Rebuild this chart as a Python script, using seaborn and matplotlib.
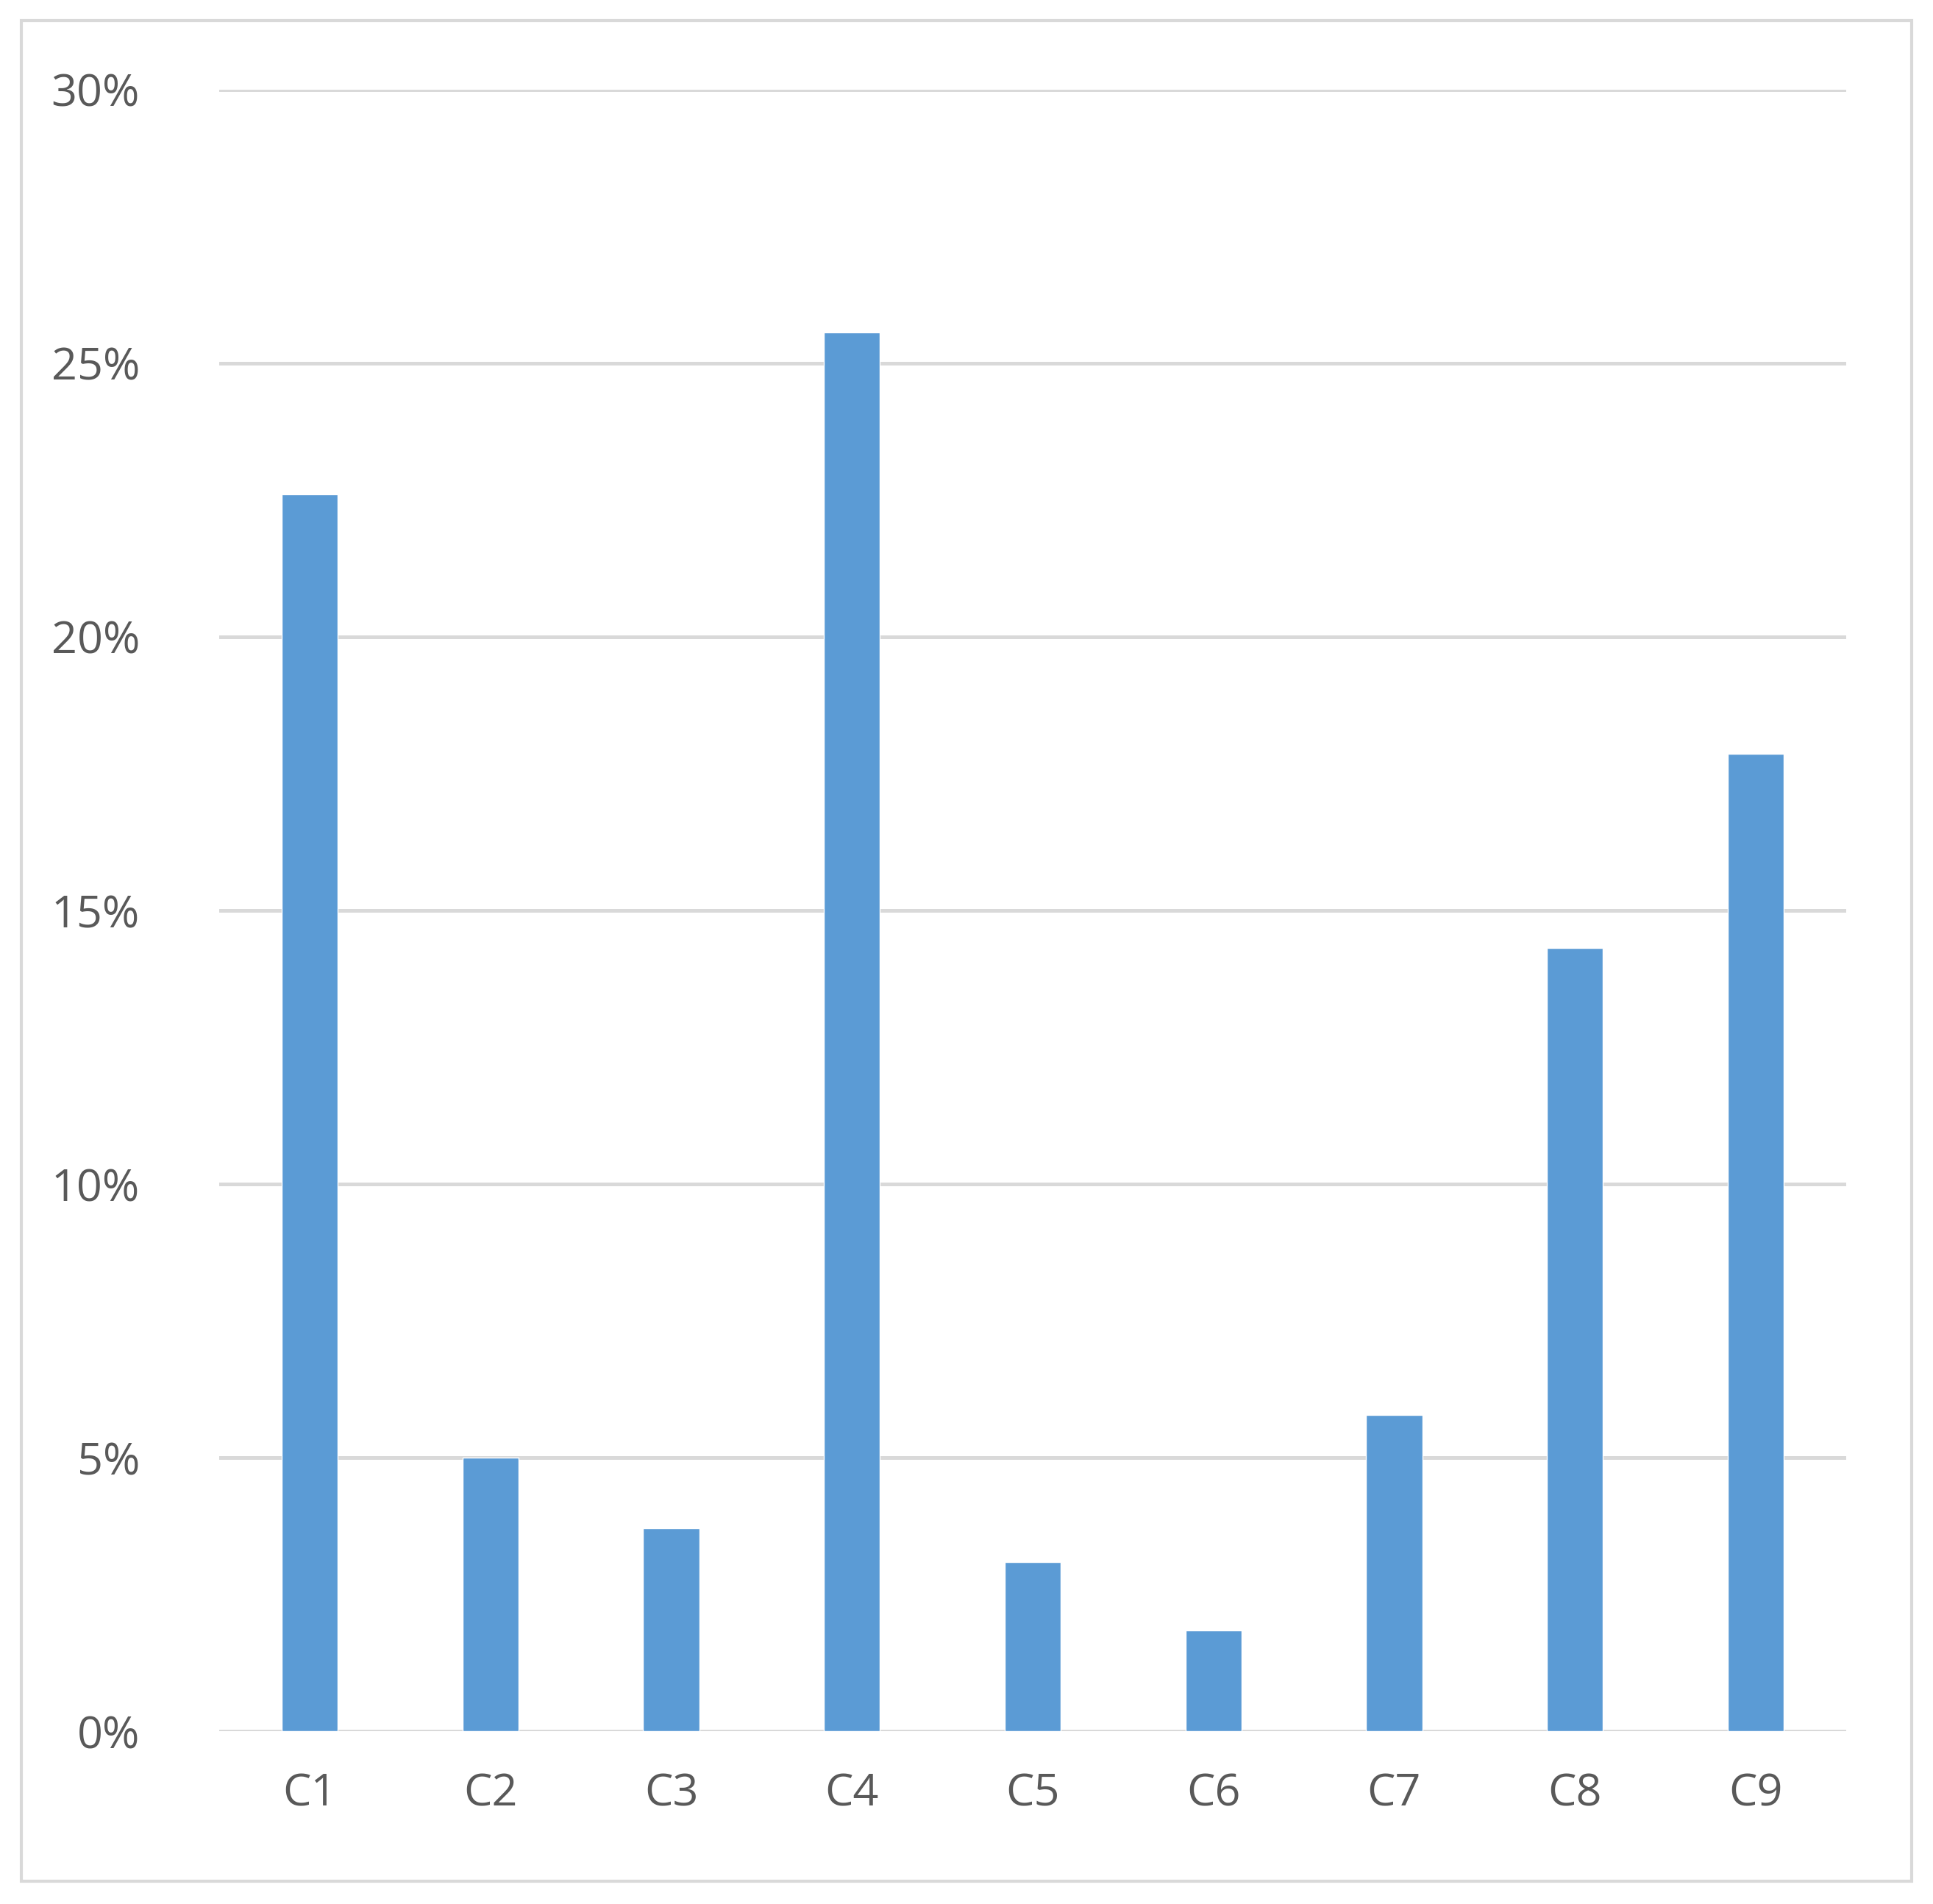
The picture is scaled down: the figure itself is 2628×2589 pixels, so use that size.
import matplotlib
matplotlib.use("Agg")
import matplotlib.pyplot as plt
import seaborn as sns
import pandas as pd
from matplotlib.patches import Rectangle
from matplotlib.ticker import FuncFormatter

categories = ["C1","C2","C3","C4","C5","C6","C7","C8","C9"]
values = [22.6, 5.0, 3.72, 25.56, 3.09, 1.85, 5.79, 14.32, 17.86]
yticks = [0, 5, 10, 15, 20, 25, 30]

sns.set_theme(style="white")
plt.rcParams['font.family'] = ['Open Sans', 'DejaVu Sans']

fig = plt.figure(figsize=(26.28, 25.89), dpi=100)
ax = fig.add_axes([0.1135, 0.0906, 0.8415, 0.8624])
df = pd.DataFrame({"cat": categories, "val": values})
sns.barplot(data=df, x="cat", y="val", color="#5B9BD5", saturation=1, width=0.31, ax=ax)
ax.set_ylim(0, 30)
ax.set_yticks(yticks)
ax.yaxis.set_major_formatter(FuncFormatter(lambda v, p: f"{int(v)}%"))
ax.grid(axis="y", color="#D9D9D9", linewidth=3.6)
ax.set_axisbelow(True)
for s in ax.spines.values():
    s.set_visible(False)
ax.set_xlabel(""); ax.set_ylabel("")
ax.tick_params(axis="both", length=0, labelsize=44, colors="#595959")
ax.tick_params(axis="y", pad=78)
ax.tick_params(axis="x", pad=40)
for l in ax.get_yticklabels():
    l.set_ha("right")
fig.patches.append(Rectangle((0.011, 0.012), 0.978, 0.977, transform=fig.transFigure,
                             fill=False, edgecolor="#D9D9D9", linewidth=3))
fig.savefig("out.png", dpi=100, facecolor="white")
